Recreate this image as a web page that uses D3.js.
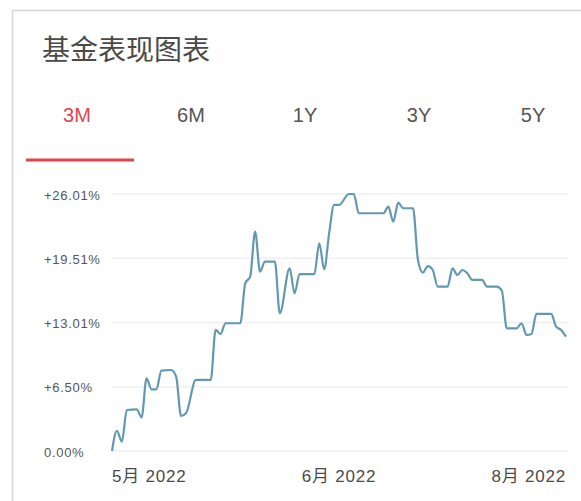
<!DOCTYPE html>
<html>
<head>
<meta charset="utf-8">
<script src="https://cdn.jsdelivr.net/npm/d3@7"></script>
<style>
  html, body { margin: 0; padding: 0; background: #fff; }
  svg { display: block; font-family: "Liberation Sans", Arial, "Noto Sans CJK SC", sans-serif; }
</style>
</head>
<body>
<div id="chart"></div>
<script>
// fund performance, 3M view
const title = '基金表现图表';
const tabs = ['3M', '6M', '1Y', '3Y', '5Y'];
const activeTab = '3M';

const dates = [
  '2022-05-10', '2022-05-11', '2022-05-12', '2022-05-13', '2022-05-15', '2022-05-16', '2022-05-17', '2022-05-18', '2022-05-19', '2022-05-20',
  '2022-05-22', '2022-05-23', '2022-05-24', '2022-05-25', '2022-05-27', '2022-05-30', '2022-05-31', '2022-06-01', '2022-06-02', '2022-06-05',
  '2022-06-06', '2022-06-07', '2022-06-08', '2022-06-09', '2022-06-10', '2022-06-12', '2022-06-13', '2022-06-15', '2022-06-16', '2022-06-17',
  '2022-06-20', '2022-06-21', '2022-06-22', '2022-06-23', '2022-06-24', '2022-06-25', '2022-06-27', '2022-06-28', '2022-06-29', '2022-07-04',
  '2022-07-05', '2022-07-06', '2022-07-07', '2022-07-08', '2022-07-10', '2022-07-11', '2022-07-12', '2022-07-13', '2022-07-14', '2022-07-15',
  '2022-07-17', '2022-07-18', '2022-07-19', '2022-07-20', '2022-07-21', '2022-07-22', '2022-07-24', '2022-07-25', '2022-07-27', '2022-07-28',
  '2022-07-29', '2022-07-31', '2022-08-01', '2022-08-02', '2022-08-03', '2022-08-04', '2022-08-07', '2022-08-08', '2022-08-09', '2022-08-10'
];

// cumulative return, %
const returns = [
  0.00, 2.05, 0.94, 4.15, 4.22, 3.41, 7.36, 6.24, 6.24, 8.13,
  8.20, 7.52, 3.54, 3.82, 7.19, 7.19, 12.25, 11.84, 12.93, 12.93,
  16.97, 17.64, 22.20, 18.15, 19.16, 19.16, 13.94, 18.49, 15.96, 17.91,
  17.91, 21.02, 18.39, 22.03, 24.90, 24.90, 26.01, 26.01, 24.06, 24.06,
  24.73, 23.21, 25.13, 24.57, 24.57, 19.33, 18.05, 18.72, 18.32, 16.63,
  16.63, 18.49, 17.81, 18.32, 17.99, 17.31, 17.31, 16.63, 16.63, 16.22,
  12.42, 12.42, 12.93, 11.74, 11.84, 13.87, 13.87, 12.58, 12.25, 11.57
];

const yTicks = [0, 6.50, 13.01, 19.51, 26.01];
const yTickLabels = ['0.00%', '+6.50%', '+13.01%', '+19.51%', '+26.01%'];
const xTickLabels = ['5月 2022', '6月 2022', '8月 2022'];

const width = 581;
const height = 501;
const plot = { left: 112, right: 566, top: 194, bottom: 451 };

const parse = d3.timeParse('%Y-%m-%d');
const data = dates.map((d, i) => ({ date: parse(d), value: returns[i] }));

const svg = d3.select('#chart').append('svg')
  .attr('width', width)
  .attr('height', height);

// card border (top + left)
svg.append('path')
  .attr('d', 'M12.5,' + height + 'V10.5H' + width)
  .attr('fill', 'none')
  .attr('stroke', '#d6d6d6')
  .attr('stroke-width', 1.5);

svg.append('text')
  .attr('x', 42)
  .attr('y', 48)
  .attr('dominant-baseline', 'central')
  .style('font-family', '"Noto Sans CJK SC", sans-serif')
  .style('font-size', '28px')
  .style('fill', '#4a4a4a')
  .text(title);

// tabs
const tabX = d3.scaleBand().domain(tabs).range([20, 590]);

svg.append('g').selectAll('text')
  .data(tabs)
  .enter()
  .append('text')
  .attr('x', d => tabX(d) + tabX.bandwidth() / 2)
  .attr('y', 115)
  .attr('text-anchor', 'middle')
  .attr('dominant-baseline', 'central')
  .style('font-size', '20px')
  .style('fill', d => d === activeTab ? '#e2434f' : '#555')
  .text(d => d);

svg.append('line')
  .attr('x1', tabX(activeTab) + 6)
  .attr('x2', tabX(activeTab) + tabX.bandwidth())
  .attr('y1', 160)
  .attr('y2', 160)
  .attr('stroke', '#e2434f')
  .attr('stroke-width', 3);

// scales
const x = d3.scaleTime()
  .domain(d3.extent(data, d => d.date))
  .range([plot.left, plot.right]);

const y = d3.scaleLinear()
  .domain([0, d3.max(yTicks)])
  .range([plot.bottom, plot.top]);

// grid
svg.append('g').selectAll('line')
  .data(yTicks)
  .enter()
  .append('line')
  .attr('x1', plot.left)
  .attr('x2', plot.right + 2)
  .attr('y1', d => y(d))
  .attr('y2', d => y(d))
  .attr('stroke', '#f0f0f0')
  .attr('stroke-width', 1.5);

svg.append('g').selectAll('text')
  .data(yTicks)
  .enter()
  .append('text')
  .attr('x', 44)
  .attr('y', d => y(d) + 1)
  .attr('dominant-baseline', 'central')
  .style('font-size', '13px')
  .style('letter-spacing', '0.7px')
  .style('fill', '#555')
  .text((d, i) => yTickLabels[i]);

// x labels: start, middle, end of the period
const [t0, t1] = x.domain();
const xTicks = [t0, new Date((+t0 + +t1) / 2), t1];
const anchors = ['start', 'middle', 'end'];

svg.append('g').selectAll('text')
  .data(xTicks)
  .enter()
  .append('text')
  .attr('x', d => x(d))
  .attr('y', 476)
  .attr('text-anchor', (d, i) => anchors[i])
  .attr('dominant-baseline', 'central')
  .style('font-size', '17px')
  .style('letter-spacing', '0.8px')
  .style('fill', '#4a4a4a')
  .text((d, i) => xTickLabels[i]);

const line = d3.line()
  .x(d => x(d.date))
  .y(d => y(d.value))
  .curve(d3.curveMonotoneX);

svg.append('path')
  .datum(data)
  .attr('d', line)
  .attr('fill', 'none')
  .attr('stroke', '#6399b0')
  .attr('stroke-width', 2.2)
  .attr('stroke-linejoin', 'round');
</script>
</body>
</html>
